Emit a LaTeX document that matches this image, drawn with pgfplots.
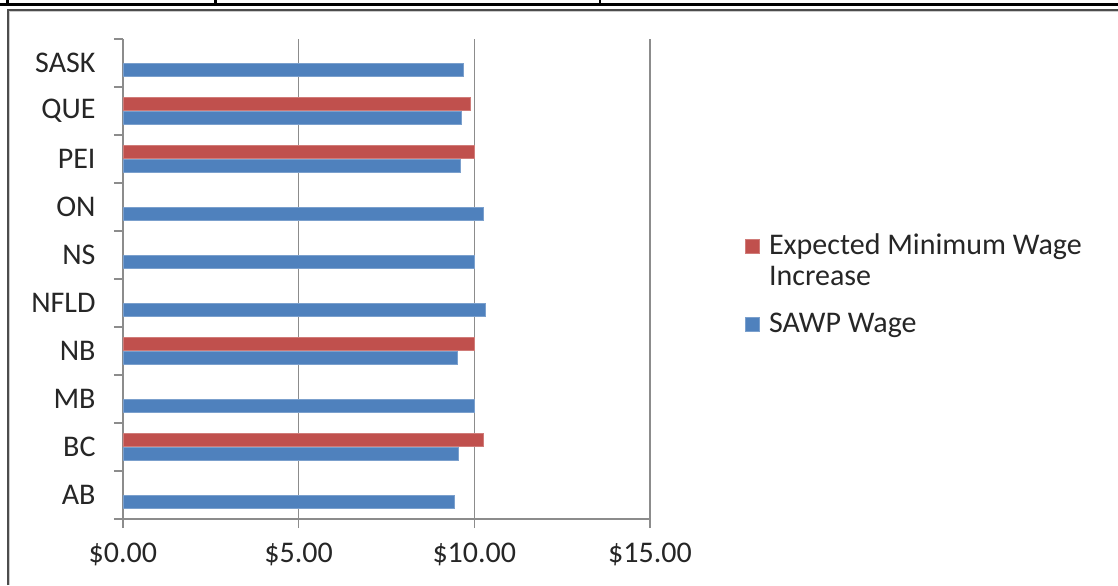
\documentclass[border=0pt]{standalone}
\usepackage{pgfplots}
\pgfplotsset{compat=1.18}
\usepackage{fontspec}
\setmainfont{Carlito}
\definecolor{sawp}{HTML}{4F81BD}
\definecolor{emw}{HTML}{C0504D}
\definecolor{gridc}{HTML}{8C8C8C}
\begin{document}
\begin{tikzpicture}[x=1pt,y=1pt]
\useasboundingbox (0,0) rectangle (559,292.5);
\fill[white] (0,0) rectangle (559,292.5);
% table remnant at the top
\draw[black, line width=1.5pt] (0,290) -- (559,290);
\draw[black, line width=1.5pt] (3.8,292.5) -- (3.8,289.25);
\draw[black, line width=1.5pt] (107.8,292.5) -- (107.8,289.25);
\draw[black, line width=0.6pt] (300,292.5) -- (300,289.25);
% chart frame
\draw[gray!60!black, line width=1pt] (4,0) -- (4,287.5) -- (560,287.5);
\draw[gray!40, line width=0.5pt] (4.9,0) -- (4.9,286.6) -- (560,286.6);
\begin{axis}[
  at={(61.45pt,33pt)}, anchor=south west,
  scale only axis, width=263.55pt, height=240pt,
  xbar, bar width=0.27,
  xmin=0, xmax=15, ymin=-0.5, ymax=9.5,
  axis x line*=bottom, axis y line*=left,
  axis line style={-, gridc, line width=0.6pt},
  xtick={0,5,10,15},
  xticklabels={\$0.00,\$5.00,\$10.00,\$15.00},
  xmajorgrids, grid style={gridc, line width=0.6pt},
  ytick={0,...,9},
  yticklabels={AB,BC,MB,NB,NFLD,NS,ON,PEI,QUE,SASK},
  minor ytick={-0.5,0.5,...,9.5},
  tick align=outside, major tick length=4.5pt, minor tick length=4.5pt,
  tick style={gridc, line width=0.6pt},
  major y tick style={draw=none},
  ticklabel style={font=\fontsize{15}{18}\selectfont, text=black!85},
  yticklabel style={inner sep=0pt, anchor=east, xshift=-9pt},
  xticklabel style={inner sep=0pt, anchor=north, yshift=-7.5pt},
  reverse legend,
  legend image code/.code={\fill[#1] (0pt,0.5pt) rectangle (7pt,7.5pt);},
  legend style={draw=none, fill=none, at={(1.180,0.6056)}, anchor=north west,
    cells={anchor=base west, inner sep=0pt}, inner sep=0pt,
    font=\fontsize{15}{15.5}\selectfont, text=black!85, row sep=24pt,
    /tikz/every odd column/.style={column sep=2.5pt}},
]
\addplot[fill=sawp, draw=sawp!75!white, line width=0.4pt, bar shift=-0.145]
  coordinates {(9.43,0) (9.55,1) (10.00,2) (9.52,3) (10.31,4) (10.00,5) (10.27,6) (9.60,7) (9.64,8) (9.69,9)};
\addlegendentry{SAWP Wage}
\addplot[fill=emw, draw=emw!75!white, line width=0.4pt, bar shift=0.145]
  coordinates {(10.25,1) (10.00,3) (10.00,7) (9.89,8)};
\addlegendentry{\begin{tabular}[t]{@{}l@{}}Expected Minimum Wage\\Increase\end{tabular}}
\end{axis}
\end{tikzpicture}
\end{document}
